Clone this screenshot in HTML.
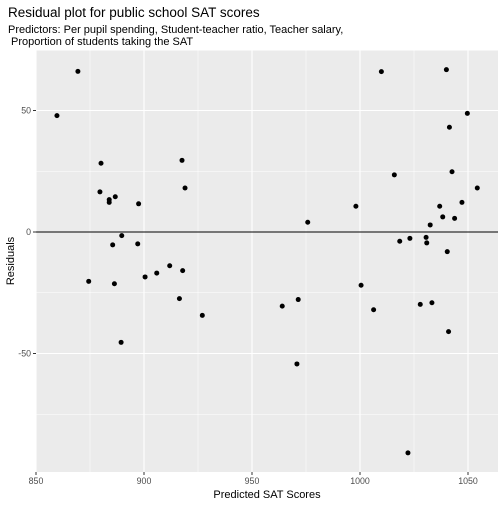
<!DOCTYPE html>
<html><head><meta charset="utf-8"><style>
body{margin:0;background:#fff;font-family:"Liberation Sans",Arial,sans-serif}
</style></head><body>
<svg width="504" height="504" viewBox="0 0 504 504" xmlns="http://www.w3.org/2000/svg" font-family="Liberation Sans, Arial, sans-serif">
<text x="8" y="17" font-size="13.5" fill="#000">Residual plot for public school SAT scores</text>
<text x="8" y="33" font-size="11" fill="#000">Predictors: Per pupil spending, Student-teacher ratio, Teacher salary,</text>
<text x="8" y="45" font-size="11" fill="#000" xml:space="preserve"> Proportion of students taking the SAT</text>
<rect x="36" y="50.5" width="462" height="421.5" fill="#ebebeb"/>
<g id="grid"></g>
<g id="pts"></g>
<g id="axes"></g>
<text x="267" y="498" font-size="11" text-anchor="middle">Predicted SAT Scores</text>
<text transform="translate(14,261) rotate(-90)" font-size="11" text-anchor="middle">Residuals</text>
</svg>
<script>
const predicted=[859.7,869.4,880.1,879.6,883.9,883.9,886.7,897.5,917.6,919,889.7,885.5,897.1,874.4,886.3,900.5,905.9,911.9,917.9,916.4,927,889.4,1009.9,1040,1049.7,1041.4,1015.9,1042.6,1054.3,998.1,1036.9,1047.2,1038.3,1043.8,1032.5,975.8,1030.6,1018.4,1023.1,1030.9,1040.4,1000.5,971.4,964,1006.3,1027.9,1033.3,1041,1022.2,970.8];
const residuals=[47.9,66.1,28.3,16.5,13.3,12.2,14.5,11.6,29.5,18.1,-1.5,-5.3,-4.9,-20.3,-21.3,-18.5,-16.9,-13.9,-15.9,-27.4,-34.3,-45.4,66,66.8,48.8,43.1,23.5,24.8,18.1,10.6,10.6,12.2,6.2,5.6,2.9,4,-2.2,-3.8,-2.6,-4.5,-8.1,-21.9,-27.8,-30.5,-32,-29.8,-29.1,-41,-90.9,-54.3];
const xTicks=[850,900,950,1000,1050];
const yTicks=[-50,0,50];
const NS="http://www.w3.org/2000/svg";
const X=v=>36+(v-850)*2.16;
const Y=v=>232-v*2.43;
function mk(tag,at,parent){const e=document.createElementNS(NS,tag);for(const k in at)e.setAttribute(k,at[k]);document.getElementById(parent).appendChild(e);return e;}
const L=36,R=498,T=50.5,B=472;
// minor grids
for(let v=875;v<1064;v+=50){const e=mk('line',{x1:X(v),x2:X(v),y1:T,y2:B,stroke:'#fff','stroke-width':0.55},'grid');

}
for(let v=-75;v<75;v+=50){const e=mk('line',{x1:L,x2:R,y1:Y(v),y2:Y(v),stroke:'#fff','stroke-width':0.55},'grid');

}
xTicks.forEach(v=>{const e=mk('line',{x1:X(v),x2:X(v),y1:T,y2:B,stroke:'#fff','stroke-width':1.1},'grid');


const t=mk('line',{x1:X(v),x2:X(v),y1:B,y2:B+3,stroke:'#333','stroke-width':1},'axes');


const l=mk('text',{x:X(v),y:B+12,'font-size':8.8,fill:'#4d4d4d','text-anchor':'middle'},'axes');l.textContent=v;

});
yTicks.forEach(v=>{const e=mk('line',{x1:L,x2:R,y1:Y(v),y2:Y(v),stroke:'#fff','stroke-width':1.1},'grid');


const t=mk('line',{x1:L-3,x2:L,y1:Y(v),y2:Y(v),stroke:'#333','stroke-width':1},'axes');


const l=mk('text',{x:L-5,y:Y(v)+3,'font-size':8.8,fill:'#4d4d4d','text-anchor':'end'},'axes');l.textContent=v;

});
const z=mk('line',{x1:L,x2:R,y1:Y(0),y2:Y(0),stroke:'#000','stroke-width':1.1},'grid');


predicted.forEach((p,i)=>{const c=mk('circle',{cx:X(p),cy:Y(residuals[i]),r:2.5,fill:'#000'},'pts');

});
</script>
</body></html>
